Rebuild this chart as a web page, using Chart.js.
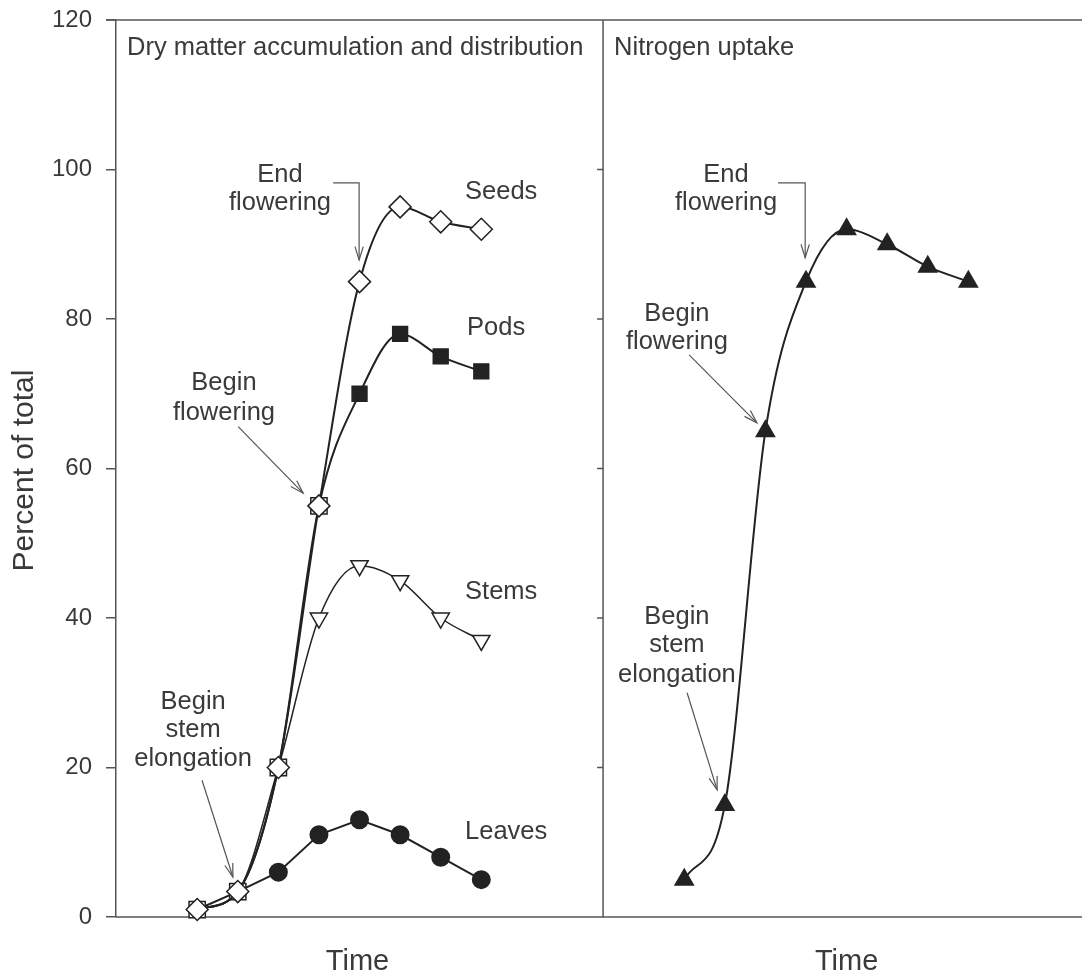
<!DOCTYPE html>
<html>
<head>
<meta charset="utf-8">
<script src="https://cdn.jsdelivr.net/npm/chart.js@4.4.1/dist/chart.umd.min.js"></script>
<style>
body { margin: 0; background: #fff; }
#wrap { width: 1082px; height: 978px; }
</style>
</head>
<body>
<div id="wrap"><canvas id="growthChart" width="1082" height="978"></canvas></div>
<script>
// time steps (left panel = dry matter, right panel = nitrogen)
const timeDry = [0, 1, 2, 3, 4, 5, 6, 7];
const timeN = [12, 13, 14, 15, 16, 17, 18, 19];

const seeds = [1, 3.4, 20, 55, 85, 95, 93, 92];
const pods = [1, 3.4, 20, 55, 70, 78, 75, 73];
const stems = [1, 3.4, 20, 40, 47, 45, 40, 37];
const leaves = [1, 3.4, 6, 11, 13, 11, 8, 5];
const nitrogen = [5, 15, 65, 85, 92, 90, 87, 85];

const yTicks = [0, 20, 40, 60, 80, 100, 120];
const panelSplit = 10;

const seriesLabels = ["Seeds", "Pods", "Stems", "Leaves"];
const panelTitles = ["Dry matter accumulation and distribution", "Nitrogen uptake"];
const axisTitleX = "Time";
const axisTitleY = "Percent of total";

// text notes and arrows, in data units
const notes = [
    { lines: ["End", "flowering"], x: 2.04, y: [99.3, 95.5] },
    { lines: ["Begin", "flowering"], x: 0.66, y: [71.4, 67.4] },
    { lines: ["Begin", "stem", "elongation"], x: -0.1, y: [28.8, 25.0, 21.1] },
    { lines: ["End", "flowering"], x: 13.03, y: [99.3, 95.5] },
    { lines: ["Begin", "flowering"], x: 11.82, y: [80.7, 76.9] },
    { lines: ["Begin", "stem", "elongation"], x: 11.82, y: [40.1, 36.4, 32.4] }
];
const arrows = [
    [[3.35, 98.2], [3.99, 98.2], [3.99, 87.9]],
    [[1.01, 65.6], [2.61, 56.7]],
    [[0.12, 18.3], [0.88, 5.35]],
    [[14.31, 98.2], [14.98, 98.2], [14.98, 88.2]],
    [[12.12, 75.2], [13.79, 66.1]],
    [[12.07, 30.0], [12.81, 17.0]]
];
const labelPos = [[6.6, 97.0], [6.65, 78.8], [6.6, 43.5], [6.6, 11.4]];
const timeLabelX = [3.95, 16.0];

const FONT = '"Liberation Sans", Arial, sans-serif';
const TEXT = "#3a3a3a";
const LINE = "#222";
const AXIS = "#555";

function pts(xs, ys) {
    return xs.map((x, i) => ({ x: x, y: ys[i] }));
}

const overlayPlugin = {
    id: "overlay",
    beforeDatasetsDraw(chart) {
        const c = chart.ctx;
        const a = chart.chartArea;
        const xs = chart.scales.x;
        const ys = chart.scales.y;
        c.save();
        c.strokeStyle = AXIS;
        c.lineWidth = 1.5;
        // top border, baseline, divider
        c.beginPath();
        c.moveTo(a.left - 10, a.top);
        c.lineTo(a.right, a.top);
        c.moveTo(a.left, a.bottom);
        c.lineTo(a.right, a.bottom);
        const sx = xs.getPixelForValue(panelSplit);
        c.moveTo(sx, a.top);
        c.lineTo(sx, a.bottom);
        yTicks.forEach(t => {
            if (t === 0 || t === 120) return;
            const y = ys.getPixelForValue(t);
            c.moveTo(sx - 6, y);
            c.lineTo(sx, y);
        });
        c.stroke();
        c.restore();
    },
    afterDraw(chart) {
        const c = chart.ctx;
        const a = chart.chartArea;
        const xs = chart.scales.x;
        const ys = chart.scales.y;
        const X = v => xs.getPixelForValue(v);
        const Y = v => ys.getPixelForValue(v);
        c.save();
        c.fillStyle = TEXT;
        c.font = "25.5px " + FONT;
        c.textBaseline = "middle";

        // panel titles
        c.textAlign = "left";
        c.fillText(panelTitles[0], a.left + 11, a.top + 28);
        c.fillText(panelTitles[1], X(panelSplit) + 11, a.top + 28);

        // series labels
        seriesLabels.forEach((s, i) => {
            c.fillText(s, X(labelPos[i][0]), Y(labelPos[i][1]));
        });

        // notes
        c.textAlign = "center";
        notes.forEach(n => {
            n.lines.forEach((t, i) => c.fillText(t, X(n.x), Y(n.y[i])));
        });

        // axis titles
        c.font = "29px " + FONT;
        timeLabelX.forEach(v => c.fillText(axisTitleX, X(v), a.bottom + 45));
        c.font = "30px " + FONT;
        c.save();
        c.translate(a.left - 91, (a.top + a.bottom) / 2 + 2);
        c.rotate(-Math.PI / 2);
        c.fillText(axisTitleY, 0, 0);
        c.restore();

        // arrows
        c.strokeStyle = "#555";
        c.lineWidth = 1.2;
        arrows.forEach(path => {
            const p = path.map(q => [X(q[0]), Y(q[1])]);
            c.beginPath();
            c.moveTo(p[0][0], p[0][1]);
            for (let i = 1; i < p.length; i++) c.lineTo(p[i][0], p[i][1]);
            c.stroke();
            const end = p[p.length - 1];
            const prev = p[p.length - 2];
            const ang = Math.atan2(end[1] - prev[1], end[0] - prev[0]);
            const len = 14;
            c.beginPath();
            c.moveTo(end[0] - len * Math.cos(ang - 0.3), end[1] - len * Math.sin(ang - 0.3));
            c.lineTo(end[0], end[1]);
            c.lineTo(end[0] - len * Math.cos(ang + 0.3), end[1] - len * Math.sin(ang + 0.3));
            c.stroke();
        });
        c.restore();
    }
};

const ctx = document.getElementById("growthChart");

const chart = new Chart(ctx, {
    type: "line",
    data: {
        datasets: [
            {
                label: "Seeds",
                data: pts(timeDry, seeds),
                borderColor: LINE,
                borderWidth: 2,
                cubicInterpolationMode: "monotone",
                pointStyle: "rectRot",
                pointRadius: 11,
                pointBackgroundColor: "#fff",
                pointBorderColor: LINE,
                pointBorderWidth: 1.5
            },
            {
                label: "Pods",
                data: pts(timeDry, pods),
                borderColor: LINE,
                borderWidth: 2,
                cubicInterpolationMode: "monotone",
                pointStyle: "rect",
                pointRadius: [11.5, 11.5, 11.5, 11.5, 10.5, 10.5, 10.5, 10.5],
                pointBackgroundColor: ["#fff", "#fff", "#fff", "#fff", LINE, LINE, LINE, LINE],
                pointBorderColor: LINE,
                pointBorderWidth: 1.5
            },
            {
                label: "Stems",
                data: pts(timeDry, stems),
                borderColor: LINE,
                borderWidth: 1.5,
                cubicInterpolationMode: "monotone",
                pointStyle: "triangle",
                rotation: 180,
                pointRadius: [0, 0, 0, 10, 10, 10, 10, 10],
                pointBackgroundColor: "#fff",
                pointBorderColor: LINE,
                pointBorderWidth: 1.5
            },
            {
                label: "Leaves",
                data: pts(timeDry, leaves),
                borderColor: LINE,
                borderWidth: 2,
                tension: 0,
                pointStyle: "circle",
                pointRadius: [0, 0, 8.5, 8.5, 8.5, 8.5, 8.5, 8.5],
                pointBackgroundColor: LINE,
                pointBorderColor: LINE
            },
            {
                label: "Nitrogen",
                data: pts(timeN, nitrogen),
                borderColor: LINE,
                borderWidth: 2,
                cubicInterpolationMode: "monotone",
                pointStyle: "triangle",
                pointRadius: 10,
                pointBackgroundColor: LINE,
                pointBorderColor: LINE
            }
        ]
    },
    options: {
        responsive: false,
        animation: false,
        clip: false,
        layout: { autoPadding: false, padding: { top: 20, bottom: 61, right: 0, left: 0 } },
        plugins: {
            legend: { display: false },
            tooltip: { enabled: false }
        },
        scales: {
            x: {
                type: "linear",
                min: -2,
                max: 21.8,
                display: false
            },
            y: {
                min: 0,
                max: 120,
                afterFit: s => {
                    s.width = 116;
                    s.paddingTop = 0;
                    s.paddingBottom = 0;
                },
                afterBuildTicks: s => { s.ticks = yTicks.map(v => ({ value: v })); },
                ticks: {
                    color: TEXT,
                    padding: 14,
                    font: { family: FONT, size: 24 }
                },
                grid: {
                    drawOnChartArea: false,
                    tickLength: 10,
                    color: AXIS,
                    lineWidth: 1.5
                },
                border: { color: AXIS, width: 1.5 }
            }
        }
    },
    plugins: [overlayPlugin]
});
</script>
</body>
</html>
